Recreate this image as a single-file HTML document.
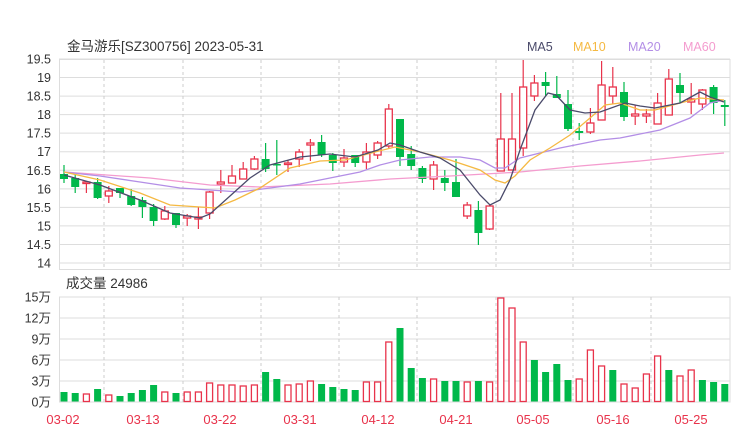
<!DOCTYPE html>
<html><head><meta charset="utf-8"><style>
html,body{margin:0;padding:0;background:#fff;}
svg{display:block;font-family:"Liberation Sans","Noto Sans CJK SC",sans-serif;}
</style></head><body>
<svg id="s" width="740" height="440" xmlns="http://www.w3.org/2000/svg">
<text x="67" y="51" font-size="13.5" fill="#333">金马游乐[SZ300756] 2023-05-31</text>
<text x="527" y="51" font-size="12.5" fill="#4a4a6a">MA5</text>
<text x="573" y="51" font-size="12.5" fill="#f5b942">MA10</text>
<text x="628" y="51" font-size="12.5" fill="#b38ee6">MA20</text>
<text x="683" y="51" font-size="12.5" fill="#f49ccf">MA60</text>
<text x="66" y="288" font-size="13.5" fill="#333">成交量 24986</text>
</svg>
<script>
const s=document.getElementById('s');let h='';
const R='#e8334b',G='#00b84a';
// price grid
const py=p=>59+(19.5-p)*37.09;
for(let i=0;i<=11;i++){const p=19.5-i*0.5,y=py(p);
h+=`<line x1="59" x2="730" y1="${y}" y2="${y}" stroke="#ddd" stroke-width="1"/>`;
h+=`<text x="51" y="${y+4.5}" font-size="12.5" fill="#333" text-anchor="end">${+p.toFixed(1)}</text>`;}
h+=`<rect x="59.5" y="59.5" width="670.5" height="210" fill="none" stroke="#ddd"/>`;
// volume grid
const labs=['15万','12万','9万','6万','3万','0万'];
for(let i=0;i<6;i++){const y=297+i*21;
h+=`<line x1="59" x2="730" y1="${y}" y2="${y}" stroke="#ddd"/>`;
h+=`<text x="51" y="${y+4.5}" font-size="12.5" fill="#333" text-anchor="end">${labs[i]}</text>`;}
h+=`<rect x="59.5" y="297" width="670.5" height="105" fill="none" stroke="#ddd"/>`;
[104,183,261,339,417,496,573,651].forEach(x=>{
h+=`<line x1="${x}" x2="${x}" y1="60" y2="269" stroke="#ccc" stroke-dasharray="3,3"/>`;
h+=`<line x1="${x}" x2="${x}" y1="297" y2="402" stroke="#ccc" stroke-dasharray="3,3"/>`;});
// dates
[['03-02',63],['03-13',143],['03-22',220],['03-31',300],['04-12',378],['04-21',456],['05-05',533],['05-16',613],['05-25',691]].forEach(d=>{
h+=`<text x="${d[1]}" y="424" font-size="13" fill="${R}" text-anchor="middle">${d[0]}</text>`;});
// candles: [bodyTop,bodyBot,wickTop,wickBot,color]
const C=[[174,179,165,183,G],[178,187,175,193,G],[182,183,182,193,R],[182,198,178,199,G],[191,196,186,203,R],[188,193,188,198,G],[196,205,189,206,G],[200,207,197,218,G],[207,221,204,226,G],[211,219,206,220,R],
[213,225,213,228,G],[216,218,214,226,R],[217,219,207,229,R],[192,213,191,219,R],[182,184,170,193,R],[176,183,165,183,R],[169,179,162,179,R],[159,169,156,170,R],[159,169,143,172,G],[164,165,140,175,G],
[163,164,160,172,R],[152,159,149,167,R],[143,145,139,161,R],[142,155,135,157,G],[155,163,153,171,G],[158,162,149,167,R],[155,163,155,167,G],[152,162,143,169,R],[143,155,141,159,R],[109,146,104,149,R],
[119,157,119,166,G],[154,166,146,170,G],[168,179,166,183,G],[165,179,161,190,R],[178,183,170,191,G],[182,197,159,197,G],[205,216,202,219,R],[210,233,201,245,G],[206,229,205,230,R],[139,171,93,171,R],
[139,170,93,170,R],[87,148,60,156,R],[83,96,75,101,R],[82,86,72,96,G],[94,98,76,98,G],[104,129,90,131,G],[131,133,123,140,G],[123,132,108,134,R],[85,120,61,120,R],[87,96,67,104,R],
[92,117,82,121,G],[114,116,105,125,R],[114,116,109,123,R],[103,124,93,124,R],[79,115,69,115,R],[85,93,73,103,G],[99,102,83,114,R],[90,104,89,110,R],[87,103,85,114,G],[105,107,100,126,G]];
const V=[[392,G],[393,G],[394,R],[389,G],[395,R],[396,G],[393,G],[390,G],[385,G],[392,R],[393,G],[392,R],[392,R],[383,R],[385,R],[385,R],[386,R],[385,R],[372,G],[379,G],
[385,R],[384,R],[381,R],[384,G],[387,G],[389,G],[390,G],[382,R],[382,R],[342,R],[328,G],[368,G],[378,G],[379,R],[381,G],[381,G],[382,R],[381,G],[382,R],[298,R],
[308,R],[342,R],[360,G],[372,G],[364,G],[380,G],[379,R],[350,R],[366,R],[370,G],[384,R],[388,R],[374,R],[356,R],[370,G],[376,R],[370,R],[380,G],[382,G],[384,G]];
const X=i=>64+i*11.2;
C.forEach((c,i)=>{const x=X(i);
h+=`<line x1="${x}" x2="${x}" y1="${c[2]}" y2="${c[3]}" stroke="${c[4]}" stroke-width="1.2"/>`;
const bh=Math.max(c[1]-c[0],1.5);
if(c[4]==G)h+=`<rect x="${x-4}" y="${c[0]}" width="8" height="${bh}" fill="${G}"/>`;
else h+=`<rect x="${x-3.5}" y="${c[0]}" width="7" height="${bh}" fill="#fff" stroke="${R}" stroke-width="1.3"/>`;});
V.forEach((v,i)=>{const x=X(i);
if(v[1]==G)h+=`<rect x="${x-3.5}" y="${v[0]}" width="7" height="${401.5-v[0]}" fill="${G}"/>`;
else h+=`<rect x="${x-3}" y="${v[0]}" width="6" height="${401.5-v[0]}" fill="#fff" stroke="${R}" stroke-width="1.3"/>`;});
const L=(pts,col)=>{h+=`<polyline fill="none" stroke="${col}" stroke-width="1.3" points="${pts.map(p=>p.join(',')).join(' ')}"/>`;};
L([[64,172],[150,178],[210,185],[260,187],[330,184],[390,179],[450,176],[520,172],[580,166],[640,161],[700,155],[724,153]],'#f49ccf');
L([[64,172],[100,176],[140,182],[180,188],[210,190],[240,192],[270,188],[300,184],[330,178],[360,172],[380,165],[400,160],[430,157],[460,157],[480,160],[495,168],[505,168],[520,158],[560,148],[600,140],[620,138],[660,130],[690,118],[710,103],[724,100]],'#b38ee6');
L([[64,172],[100,180],[140,193],[170,205],[200,207],[215,208],[235,200],[260,188],[290,168],[320,161],[345,160],[375,152],[395,147],[420,152],[450,160],[480,170],[495,180],[505,183],[515,176],[530,160],[550,148],[570,135],[590,118],[605,105],[620,103],[640,110],[655,110],[680,103],[700,98],[724,100]],'#f5b942');
L([[64,175],[100,185],[140,200],[170,213],[200,218],[210,214],[230,196],[250,178],[270,165],[300,157],[330,154],[355,157],[378,150],[390,143],[400,145],[420,152],[440,158],[460,170],[480,195],[490,205],[500,200],[510,180],[520,150],[535,110],[548,93],[556,95],[570,110],[585,113],[600,112],[625,103],[640,106],[655,108],[680,103],[700,92],[710,97],[724,102]],'#4a4a6a');
s.insertAdjacentHTML('afterbegin',h);
</script>
</body></html>
